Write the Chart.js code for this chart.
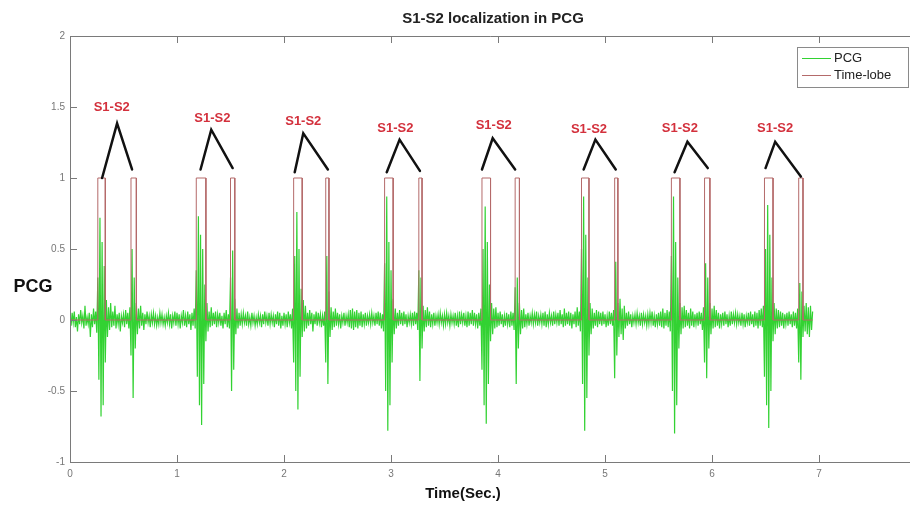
<!DOCTYPE html>
<html>
<head>
<meta charset="utf-8">
<script src="https://cdn.jsdelivr.net/npm/chart.js@4/dist/chart.umd.min.js"></script>
<style>
html,body{margin:0;padding:0;background:#fff;}
#wrap{width:912px;height:505px;position:relative;}
</style>
</head>
<body>
<div id="wrap"><canvas id="c" width="912" height="505"></canvas></div>
<script>
// ---- data ----
const sampleRate = 100; // samples per second (PCG)
const pcgSec0 = [
0.03,-0.04,0.05,-0.02,0.06,-0.05,0.02,-0.08,0.04,-0.03,
0.07,-0.02,0.03,-0.06,0.10,-0.04,0.02,-0.03,0.05,-0.12,
0.04,-0.05,0.08,-0.03,0.06,-0.09,0.30,-0.42,0.72,-0.68,
0.55,-0.60,0.38,-0.30,0.14,-0.12,0.09,-0.07,0.12,-0.05,
0.06,-0.04,0.10,-0.06,0.04,-0.03,0.05,-0.08,0.03,-0.02,
0.04,-0.05,0.07,-0.03,0.05,-0.06,0.09,-0.25,0.50,-0.55,
0.30,-0.20,0.12,-0.10,0.08,-0.06,0.10,-0.04,0.05,-0.07,
0.04,-0.03,0.06,-0.02,0.03,-0.05,0.04,-0.02,0.05,-0.03,
0.03,-0.04,0.02,-0.03,0.05,-0.02,0.04,-0.03,0.02,-0.04,
0.03,-0.02,0.05,-0.03,0.04,-0.06,0.03,-0.02,0.06,-0.04];
const pcgSec1 = [
0.05,-0.03,0.04,-0.06,0.03,-0.02,0.07,-0.04,0.03,-0.05,
0.06,-0.03,0.04,-0.07,0.05,-0.04,0.08,-0.06,0.35,-0.40,
0.73,-0.60,0.60,-0.74,0.50,-0.45,0.25,-0.15,0.12,-0.08,
0.06,-0.05,0.09,-0.04,0.05,-0.03,0.06,-0.05,0.04,-0.02,
0.05,-0.04,0.03,-0.06,0.05,-0.03,0.07,-0.05,0.04,-0.06,
0.30,-0.50,0.49,-0.35,0.15,-0.10,0.08,-0.06,0.05,-0.04,
0.04,-0.03,0.05,-0.02,0.03,-0.04,0.06,-0.03,0.02,-0.04,
0.05,-0.02,0.03,-0.04,0.02,-0.03,0.04,-0.02,0.03,-0.05,
0.04,-0.03,0.06,-0.02,0.03,-0.04,0.05,-0.03,0.04,-0.02,
0.03,-0.05,0.04,-0.03,0.06,-0.04,0.05,-0.06,0.03,-0.04];
const pcgSec2 = [
0.05,-0.03,0.04,-0.05,0.06,-0.02,0.04,-0.06,0.08,-0.30,
0.45,-0.50,0.76,-0.63,0.50,-0.40,0.22,-0.12,0.14,-0.08,
0.10,-0.06,0.05,-0.04,0.07,-0.03,0.05,-0.08,0.04,-0.03,
0.06,-0.04,0.05,-0.02,0.04,-0.05,0.03,-0.04,0.06,-0.30,
0.45,-0.45,0.20,-0.12,0.09,-0.07,0.06,-0.05,0.08,-0.04,
0.05,-0.03,0.04,-0.06,0.03,-0.02,0.05,-0.04,0.03,-0.02,
0.04,-0.05,0.07,-0.06,0.08,-0.07,0.06,-0.05,0.07,-0.06,
0.05,-0.04,0.06,-0.05,0.04,-0.03,0.05,-0.04,0.03,-0.02,
0.04,-0.03,0.05,-0.02,0.03,-0.04,0.05,-0.03,0.06,-0.04,
0.05,-0.06,0.04,-0.08,0.40,-0.50,0.87,-0.78,0.55,-0.60];
const pcgSec3 = [
0.35,-0.30,0.15,-0.10,0.08,-0.06,0.05,-0.04,0.07,-0.03,
0.05,-0.04,0.06,-0.03,0.04,-0.05,0.03,-0.02,0.04,-0.03,
0.05,-0.04,0.06,-0.03,0.05,-0.07,0.35,-0.43,0.30,-0.20,
0.10,-0.08,0.07,-0.05,0.09,-0.04,0.06,-0.05,0.04,-0.03,
0.05,-0.04,0.03,-0.02,0.04,-0.03,0.05,-0.02,0.03,-0.04,
0.04,-0.03,0.05,-0.02,0.03,-0.04,0.04,-0.02,0.03,-0.03,
0.05,-0.04,0.03,-0.05,0.06,-0.03,0.04,-0.02,0.05,-0.04,
0.03,-0.05,0.06,-0.04,0.05,-0.03,0.07,-0.04,0.05,-0.03,
0.04,-0.06,0.05,-0.04,0.08,-0.35,0.50,-0.60,0.80,-0.73,
0.55,-0.45,0.25,-0.15,0.12,-0.10,0.08,-0.06,0.09,-0.05];
const pcgSec4 = [
0.05,-0.04,0.06,-0.03,0.04,-0.05,0.03,-0.04,0.05,-0.03,
0.04,-0.05,0.06,-0.04,0.05,-0.07,0.23,-0.45,0.30,-0.20,
0.12,-0.10,0.07,-0.06,0.08,-0.05,0.04,-0.03,0.05,-0.04,
0.03,-0.02,0.05,-0.03,0.04,-0.02,0.06,-0.04,0.03,-0.02,
0.04,-0.03,0.05,-0.04,0.06,-0.05,0.04,-0.03,0.05,-0.02,
0.03,-0.04,0.06,-0.03,0.04,-0.02,0.05,-0.04,0.07,-0.03,
0.04,-0.05,0.08,-0.04,0.05,-0.03,0.06,-0.04,0.05,-0.06,
0.04,-0.03,0.06,-0.05,0.09,-0.04,0.06,-0.08,0.50,-0.45,
0.87,-0.78,0.60,-0.55,0.30,-0.25,0.12,-0.10,0.08,-0.06,
0.05,-0.04,0.07,-0.05,0.06,-0.03,0.05,-0.04,0.06,-0.03];
const pcgSec5 = [
0.04,-0.05,0.03,-0.04,0.06,-0.03,0.05,-0.04,0.07,-0.41,
0.41,-0.25,0.12,-0.12,0.15,-0.10,0.08,-0.14,0.10,-0.06,
0.05,-0.04,0.06,-0.03,0.04,-0.05,0.03,-0.02,0.04,-0.03,
0.05,-0.02,0.03,-0.04,0.05,-0.03,0.04,-0.02,0.03,-0.04,
0.04,-0.03,0.05,-0.02,0.06,-0.04,0.03,-0.05,0.04,-0.03,
0.05,-0.04,0.06,-0.05,0.08,-0.06,0.05,-0.04,0.07,-0.05,
0.06,-0.08,0.45,-0.50,0.87,-0.80,0.55,-0.60,0.30,-0.20,
0.12,-0.10,0.09,-0.06,0.10,-0.05,0.07,-0.04,0.05,-0.06,
0.08,-0.04,0.06,-0.05,0.04,-0.03,0.05,-0.04,0.06,-0.03,
0.05,-0.07,0.09,-0.30,0.40,-0.41,0.30,-0.20,0.12,-0.10];
const pcgSec6 = [
0.08,-0.06,0.10,-0.05,0.07,-0.04,0.05,-0.06,0.04,-0.03,
0.05,-0.04,0.06,-0.03,0.04,-0.05,0.03,-0.04,0.06,-0.03,
0.04,-0.02,0.05,-0.03,0.04,-0.02,0.03,-0.04,0.05,-0.03,
0.04,-0.05,0.03,-0.02,0.05,-0.04,0.06,-0.03,0.04,-0.05,
0.06,-0.04,0.05,-0.06,0.07,-0.04,0.08,-0.05,0.10,-0.40,
0.50,-0.60,0.81,-0.76,0.60,-0.50,0.30,-0.15,0.12,-0.10,
0.08,-0.06,0.07,-0.05,0.06,-0.04,0.05,-0.06,0.04,-0.03,
0.05,-0.04,0.06,-0.03,0.04,-0.05,0.06,-0.04,0.05,-0.06,
0.08,-0.30,0.26,-0.42,0.20,-0.12,0.10,-0.08,0.12,-0.10,
0.09,-0.12,0.10,-0.07,0.06];

// Time-lobe windows (seconds)
const s1On  = [0.26, 1.18, 2.09, 2.94, 3.85, 4.78, 5.62, 6.49];
const s1Off = [0.33, 1.27, 2.17, 3.02, 3.93, 4.85, 5.70, 6.57];
const s2On  = [0.57, 1.50, 2.39, 3.26, 4.16, 5.09, 5.93, 6.81];
const s2Off = [0.62, 1.54, 2.42, 3.29, 4.20, 5.12, 5.98, 6.85];
const lobeLevel = 1;
const signalEnd = 6.94;

// "S1-S2" annotations: [time, level]
const annoLabel = [[0.39,1.50],[1.33,1.42],[2.18,1.40],[3.04,1.35],[3.96,1.37],[4.85,1.34],[5.70,1.35],[6.59,1.35]];
const annoApex  = [[0.44,1.385],[1.32,1.34],[2.18,1.315],[3.08,1.27],[3.95,1.28],[4.91,1.27],[5.77,1.255],[6.59,1.255]];
const annoLeft  = [[0.30,1.00],[1.22,1.06],[2.10,1.04],[2.96,1.04],[3.85,1.06],[4.80,1.06],[5.65,1.04],[6.50,1.07]];
const annoRight = [[0.58,1.06],[1.52,1.07],[2.41,1.06],[3.27,1.05],[4.16,1.06],[5.10,1.06],[5.96,1.07],[6.83,1.01]];

const xTicks = [0,1,2,3,4,5,6,7];
const yTicks = [-1,-0.5,0,0.5,1,1.5,2];
const xMin = 0, xMax = 7.85, yMin = -1, yMax = 2;

// ---- build datasets ----
const pcg = [].concat(pcgSec0,pcgSec1,pcgSec2,pcgSec3,pcgSec4,pcgSec5,pcgSec6);
const pcgData = pcg.map((v,i)=>({x:i/sampleRate, y:v}));

const lobeData = [{x:0,y:0}];
const pulses = [];
for (let i=0;i<s1On.length;i++){ pulses.push([s1On[i],s1Off[i]]); pulses.push([s2On[i],s2Off[i]]); }
pulses.sort((a,b)=>a[0]-b[0]);
pulses.forEach(p=>{
  lobeData.push({x:p[0],y:0},{x:p[0],y:lobeLevel},{x:p[1],y:lobeLevel},{x:p[1],y:0});
});
lobeData.push({x:signalEnd,y:0});

const GREEN = 'rgb(50,210,50)';
const LOBE = '#b46a6a';

const datasets = [
  {label:'PCG', data:pcgData, borderColor:GREEN, borderWidth:1.2, pointRadius:0, tension:0, order:3},
  {label:'Time-lobe', data:lobeData, borderColor:LOBE, borderWidth:1, pointRadius:0, tension:0, order:2}
];
for (let i=0;i<annoApex.length;i++){
  datasets.push({label:'anno'+i, data:[
    {x:annoLeft[i][0],y:annoLeft[i][1]},
    {x:annoApex[i][0],y:annoApex[i][1]},
    {x:annoRight[i][0],y:annoRight[i][1]}],
    borderColor:'#111', borderWidth:2.5, pointRadius:0, tension:0, order:1, borderCapStyle:'round'});
}

const decor = {
  id:'decor',
  afterDraw(chart){
    const ctx = chart.ctx, a = chart.chartArea;
    const xs = chart.scales.x, ys = chart.scales.y;
    ctx.save();
    ctx.strokeStyle = '#7a7a7a'; ctx.lineWidth = 1;
    ctx.beginPath();
    ctx.moveTo(a.left+0.5, a.top+0.5); ctx.lineTo(a.right, a.top+0.5);
    ctx.moveTo(a.left+0.5, a.top+0.5); ctx.lineTo(a.left+0.5, a.bottom+0.5);
    ctx.lineTo(a.right, a.bottom+0.5);
    ctx.stroke();
    ctx.beginPath();
    xTicks.forEach(t=>{
      const px = Math.round(xs.getPixelForValue(t))+0.5;
      ctx.moveTo(px, a.bottom); ctx.lineTo(px, a.bottom-7);
      ctx.moveTo(px, a.top); ctx.lineTo(px, a.top+7);
    });
    yTicks.forEach(t=>{
      const py = Math.round(ys.getPixelForValue(t))+0.5;
      ctx.moveTo(a.left, py); ctx.lineTo(a.left+7, py);
    });
    ctx.stroke();
    ctx.fillStyle = '#d3303c';
    ctx.font = 'bold 13px "Liberation Sans", Arial, sans-serif';
    ctx.textAlign = 'center'; ctx.textBaseline = 'middle';
    annoLabel.forEach(p=>{
      ctx.fillText('S1-S2', xs.getPixelForValue(p[0]), ys.getPixelForValue(p[1]));
    });
    ctx.fillStyle = '#222';
    ctx.font = 'bold 15px "Liberation Sans", Arial, sans-serif';
    ctx.fillText('S1-S2 localization in PCG', 493, 19);
    ctx.fillStyle = '#111';
    ctx.font = 'bold 15px "Liberation Sans", Arial, sans-serif';
    ctx.fillText('Time(Sec.)', 463, 494);
    ctx.font = 'bold 18px "Liberation Sans", Arial, sans-serif';
    ctx.fillText('PCG', 33, 287);
    const lx = 797, ly = 47, lw = 111, lh = 40;
    ctx.fillStyle = '#fff';
    ctx.fillRect(lx, ly, lw, lh);
    ctx.strokeStyle = '#8a8a8a'; ctx.lineWidth = 1;
    ctx.strokeRect(lx+0.5, ly+0.5, lw, lh);
    const items = [[chart.data.datasets[0].label, GREEN, ly+11],[chart.data.datasets[1].label, LOBE, ly+28]];
    items.forEach(it=>{
      ctx.strokeStyle = it[1]; ctx.lineWidth = 1;
      ctx.beginPath(); ctx.moveTo(lx+5, it[2]+0.5); ctx.lineTo(lx+34, it[2]+0.5); ctx.stroke();
      ctx.fillStyle = '#222';
      ctx.font = '13px "Liberation Sans", Arial, sans-serif';
      ctx.textAlign = 'left';
      ctx.fillText(it[0], lx+37, it[2]);
    });
    ctx.restore();
  }
};

new Chart(document.getElementById('c'), {
  type:'line',
  data:{datasets},
  options:{
    responsive:false, animation:false, parsing:true,
    layout:{padding:{top:36, right:2, left:0, bottom:0}},
    plugins:{legend:{display:false}, title:{display:false}, tooltip:{enabled:false}},
    scales:{
      x:{type:'linear', min:xMin, max:xMax,
         grid:{display:false, drawTicks:false}, border:{display:false},
         afterBuildTicks:(s)=>{ s.ticks = xTicks.map(v=>({value:v})); },
         afterFit:(s)=>{ s.height = 43; },
         ticks:{color:'#777', padding:6, maxRotation:0, font:{size:10, family:'"Liberation Sans", Arial, sans-serif'}, callback:(v)=>String(v)}},
      y:{type:'linear', min:yMin, max:yMax,
         grid:{display:false, drawTicks:false}, border:{display:false},
         afterBuildTicks:(s)=>{ s.ticks = yTicks.map(v=>({value:v})); },
         afterFit:(s)=>{ s.width = 70; },
         ticks:{color:'#777', padding:5, font:{size:10, family:'"Liberation Sans", Arial, sans-serif'}, callback:(v)=>String(v)}}
    }
  },
  plugins:[decor]
});
</script>
</body>
</html>
